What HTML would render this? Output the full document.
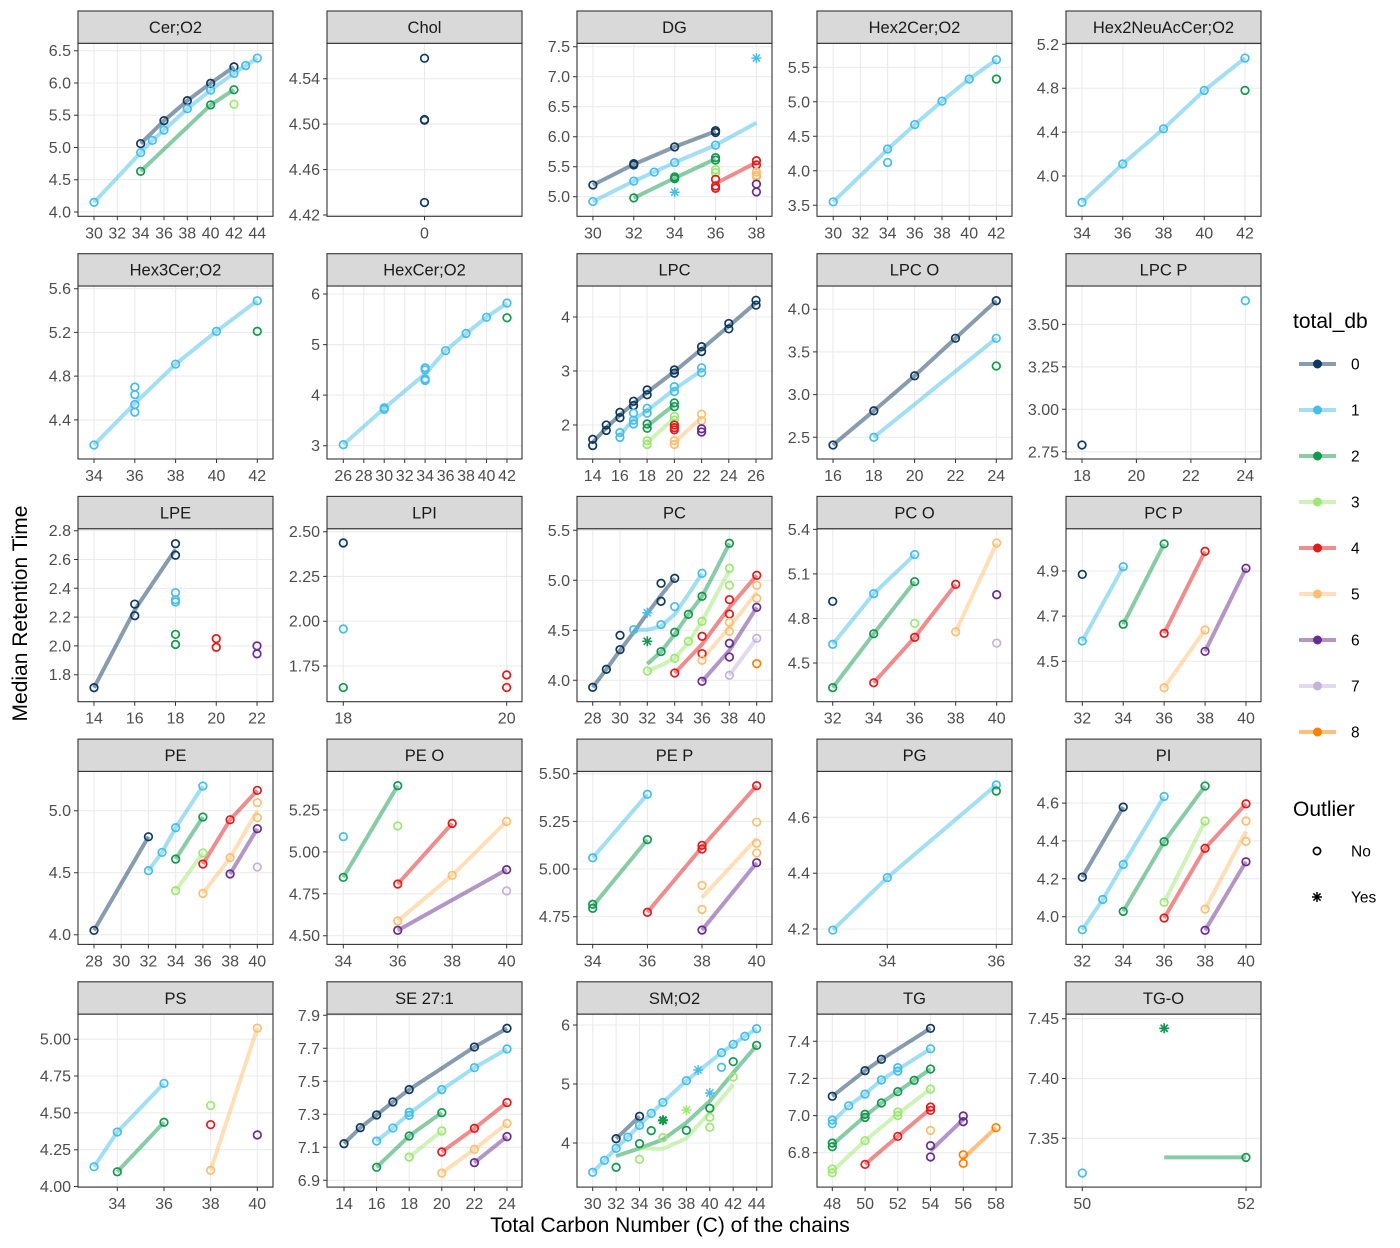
<!DOCTYPE html>
<html><head><meta charset="utf-8"><style>
html,body{margin:0;padding:0;background:#fff}
svg{display:block}
text{font-family:"Liberation Sans",Arial,Helvetica,sans-serif}
.tk{font-size:16px;fill:#4d4d4d}
.m{text-anchor:middle}
.e{text-anchor:end}
.st{font-size:16.5px;fill:#1a1a1a;text-anchor:middle}
.l{fill:none;stroke-width:4px;stroke-opacity:.5;stroke-linejoin:round;vector-effect:non-scaling-stroke}
.gr{fill:none;stroke:#ebebeb;stroke-width:1.1}
.tc{fill:none;stroke:#333;stroke-width:1}
.bd{fill:none;stroke:#333;stroke-width:1.1}
.sb{fill:#d9d9d9;stroke:#333;stroke-width:1.1}
.pt{fill:none;stroke-width:1.7}
.tt{font-size:21px;fill:#000}
.lg{font-size:15.5px;fill:#000}
</style></head><body>
<svg width="1400" height="1248" viewBox="0 0 1400 1248" xmlns="http://www.w3.org/2000/svg">
<defs>
<ellipse id="e1" rx=".2915" ry=".0527" transform="scale(1.12)" fill="none" vector-effect="non-scaling-stroke"/>
<ellipse id="e2" rx=".034" ry=".003" transform="scale(1.12)" fill="none" vector-effect="non-scaling-stroke"/>
<ellipse id="e3" rx=".1663" ry=".0567" transform="scale(1.12)" fill="none" vector-effect="non-scaling-stroke"/>
<ellipse id="e4" rx=".25" ry=".0493" transform="scale(1.12)" fill="none" vector-effect="non-scaling-stroke"/>
<ellipse id="e5" rx=".1669" ry=".031" transform="scale(1.12)" fill="none" vector-effect="non-scaling-stroke"/>
<ellipse id="e6" rx=".1666" ry=".0311" transform="scale(1.12)" fill="none" vector-effect="non-scaling-stroke"/>
<ellipse id="e7" rx=".3324" ry=".0672" transform="scale(1.12)" fill="none" vector-effect="non-scaling-stroke"/>
<ellipse id="e8" rx=".2498" ry=".063" transform="scale(1.12)" fill="none" vector-effect="non-scaling-stroke"/>
<ellipse id="e9" rx=".1666" ry=".0398" transform="scale(1.12)" fill="none" vector-effect="non-scaling-stroke"/>
<ellipse id="e10" rx=".1249" ry=".02" transform="scale(1.12)" fill="none" vector-effect="non-scaling-stroke"/>
<ellipse id="e11" rx=".1669" ry=".0236" transform="scale(1.12)" fill="none" vector-effect="non-scaling-stroke"/>
<ellipse id="e12" rx=".0416" ry=".019" transform="scale(1.12)" fill="none" vector-effect="non-scaling-stroke"/>
<ellipse id="e13" rx=".2487" ry=".034" transform="scale(1.12)" fill="none" vector-effect="non-scaling-stroke"/>
<ellipse id="e14" rx=".1659" ry=".0229" transform="scale(1.12)" fill="none" vector-effect="non-scaling-stroke"/>
<ellipse id="e15" rx=".1662" ry=".01506" transform="scale(1.12)" fill="none" vector-effect="non-scaling-stroke"/>
<ellipse id="e16" rx=".2498" ry=".0274" transform="scale(1.12)" fill="none" vector-effect="non-scaling-stroke"/>
<ellipse id="e17" rx=".1249" ry=".0203" transform="scale(1.12)" fill="none" vector-effect="non-scaling-stroke"/>
<ellipse id="e18" rx=".1244" ry=".0178" transform="scale(1.12)" fill="none" vector-effect="non-scaling-stroke"/>
<ellipse id="e19" rx=".0624" ry=".01218" transform="scale(1.12)" fill="none" vector-effect="non-scaling-stroke"/>
<ellipse id="e20" rx=".1662" ry=".01795" transform="scale(1.12)" fill="none" vector-effect="non-scaling-stroke"/>
<ellipse id="e21" rx=".1457" ry=".0231" transform="scale(1.12)" fill="none" vector-effect="non-scaling-stroke"/>
<ellipse id="e22" rx=".2086" ry=".0206" transform="scale(1.12)" fill="none" vector-effect="non-scaling-stroke"/>
<ellipse id="e23" rx=".2903" ry=".0576" transform="scale(1.12)" fill="none" vector-effect="non-scaling-stroke"/>
<ellipse id="e24" rx=".2077" ry=".01832" transform="scale(1.12)" fill="none" vector-effect="non-scaling-stroke"/>
<ellipse id="e25" rx=".04155" ry=".002843" transform="scale(1.12)" fill="none" vector-effect="non-scaling-stroke"/>
<path id="star" d="M-5 0h10M0-5v10M-3.6-3.6l7.2 7.2M-3.6 3.6l7.2-7.2" fill="none"/>
</defs>
<rect width="1400" height="1248" fill="#fff"/>

<!-- ============ ROW 0 ============ -->
<!-- P1 Cer;O2 -->
<rect x="78" y="43.3" width="195" height="173" fill="#fff"/>
<path class="gr" d="M94 43.3v173M117.3 43.3v173M140.7 43.3v173M164 43.3v173M187.3 43.3v173M210.6 43.3v173M234 43.3v173M257.3 43.3v173M78 212h195M78 179.7h195M78 147.5h195M78 115.2h195M78 83h195M78 50.7h195"/>
<g transform="matrix(11.664 0 0 -64.52 -255.92 470.08)">
<polyline class="l" stroke="#0f3a5f" points="34,5.06 36,5.415 38,5.725 40,5.995 42,6.25"/>
<polyline class="l" stroke="#45bfea" points="30,4.15 34,4.92 35,5.11 36,5.27 38,5.6 40,5.89 42,6.15 43,6.27 44,6.385"/>
<polyline class="l" stroke="#12994e" points="34,4.63 40,5.66 42,5.895"/>
<g class="pt" stroke="#0f3a5f"><use href="#e1" x="34" y="5.06"/><use href="#e1" x="36" y="5.415"/><use href="#e1" x="38" y="5.725"/><use href="#e1" x="40" y="5.995"/><use href="#e1" x="42" y="6.25"/></g>
<g class="pt" stroke="#45bfea"><use href="#e1" x="30" y="4.15"/><use href="#e1" x="34" y="4.92"/><use href="#e1" x="35" y="5.11"/><use href="#e1" x="36" y="5.27"/><use href="#e1" x="38" y="5.6"/><use href="#e1" x="40" y="5.89"/><use href="#e1" x="42" y="6.15"/><use href="#e1" x="43" y="6.27"/><use href="#e1" x="44" y="6.385"/></g>
<g class="pt" stroke="#12994e"><use href="#e1" x="34" y="4.63"/><use href="#e1" x="40" y="5.66"/><use href="#e1" x="42" y="5.895"/></g>
<g class="pt" stroke="#9de872"><use href="#e1" x="42" y="5.67"/></g>
</g>
<rect class="bd" x="78" y="43.3" width="195" height="173"/>
<rect class="sb" x="78" y="11" width="195" height="32.3"/>
<text class="st" x="175.5" y="33">Cer;O2</text>
<path class="tc" d="M94 216.3v4M117.3 216.3v4M140.7 216.3v4M164 216.3v4M187.3 216.3v4M210.6 216.3v4M234 216.3v4M257.3 216.3v4M78 212h-4M78 179.7h-4M78 147.5h-4M78 115.2h-4M78 83h-4M78 50.7h-4"/>
<g class="tk m"><text x="94" y="238.5">30</text><text x="117.3" y="238.5">32</text><text x="140.7" y="238.5">34</text><text x="164" y="238.5">36</text><text x="187.3" y="238.5">38</text><text x="210.6" y="238.5">40</text><text x="234" y="238.5">42</text><text x="257.3" y="238.5">44</text></g>
<g class="tk e"><text x="71" y="217.5">4.0</text><text x="71" y="185.2">4.5</text><text x="71" y="153">5.0</text><text x="71" y="120.7">5.5</text><text x="71" y="88.5">6.0</text><text x="71" y="56.2">6.5</text></g>

<!-- P2 Chol -->
<rect x="327" y="43.3" width="195" height="173" fill="#fff"/>
<path class="gr" d="M424.5 43.3v173M327 215h195M327 169.6h195M327 124.1h195M327 78.7h195"/>
<g transform="matrix(100 0 0 -1135.8 424.5 5235.24)">
<g class="pt" stroke="#0f3a5f"><use href="#e2" x="0" y="4.558"/><use href="#e2" x="0" y="4.504"/><use href="#e2" x="0" y="4.5035"/><use href="#e2" x="0" y="4.431"/></g>
</g>
<rect class="bd" x="327" y="43.3" width="195" height="173"/>
<rect class="sb" x="327" y="11" width="195" height="32.3"/>
<text class="st" x="424.5" y="33">Chol</text>
<path class="tc" d="M424.5 216.3v4M327 215h-4M327 169.6h-4M327 124.1h-4M327 78.7h-4"/>
<g class="tk m"><text x="424.5" y="238.5">0</text></g>
<g class="tk e"><text x="320" y="220.5">4.42</text><text x="320" y="175.1">4.46</text><text x="320" y="129.6">4.50</text><text x="320" y="84.2">4.54</text></g>

<!-- P3 DG -->
<rect x="577" y="43.3" width="195" height="173" fill="#fff"/>
<path class="gr" d="M592.9 43.3v173M633.8 43.3v173M674.7 43.3v173M715.6 43.3v173M756.4 43.3v173M577 196.7h195M577 166.7h195M577 136.7h195M577 106.7h195M577 76.7h195M577 46.7h195"/>
<g transform="matrix(20.44 0 0 -60 -20.3 496.7)">
<polyline class="l" stroke="#0f3a5f" points="30,5.195 32,5.54 34,5.83 36,6.09"/>
<polyline class="l" stroke="#45bfea" points="30,4.92 32,5.26 33,5.41 34,5.57 36,5.86 38,6.23"/>
<polyline class="l" stroke="#12994e" points="32,4.98 34,5.31 36,5.63"/>
<polyline class="l" stroke="#e31a1c" points="36,5.22 38,5.57"/>
<g class="pt" stroke="#0f3a5f"><use href="#e3" x="30" y="5.195"/><use href="#e3" x="32" y="5.53"/><use href="#e3" x="32" y="5.55"/><use href="#e3" x="34" y="5.83"/><use href="#e3" x="36" y="6.07"/><use href="#e3" x="36" y="6.1"/></g>
<g class="pt" stroke="#45bfea"><use href="#e3" x="30" y="4.92"/><use href="#e3" x="32" y="5.26"/><use href="#e3" x="33" y="5.41"/><use href="#e3" x="34" y="5.57"/><use href="#e3" x="36" y="5.86"/></g>
<g class="pt" stroke="#12994e"><use href="#e3" x="32" y="4.98"/><use href="#e3" x="34" y="5.3"/><use href="#e3" x="34" y="5.33"/><use href="#e3" x="36" y="5.61"/><use href="#e3" x="36" y="5.65"/></g>
<g class="pt" stroke="#9de872"><use href="#e3" x="36" y="5.45"/><use href="#e3" x="36" y="5.4"/></g>
<g class="pt" stroke="#e31a1c"><use href="#e3" x="36" y="5.29"/><use href="#e3" x="36" y="5.18"/><use href="#e3" x="36" y="5.14"/><use href="#e3" x="38" y="5.6"/><use href="#e3" x="38" y="5.53"/></g>
<g class="pt" stroke="#fdbf6f"><use href="#e3" x="38" y="5.41"/><use href="#e3" x="38" y="5.36"/><use href="#e3" x="38" y="5.33"/></g>
<g class="pt" stroke="#6a2c91"><use href="#e3" x="38" y="5.21"/><use href="#e3" x="38" y="5.08"/></g>
</g>
<g stroke="#45bfea" stroke-width="1.5"><use href="#star" x="756.4" y="58.1"/><use href="#star" x="674.7" y="192.2"/></g>
<rect class="bd" x="577" y="43.3" width="195" height="173"/>
<rect class="sb" x="577" y="11" width="195" height="32.3"/>
<text class="st" x="674.5" y="33">DG</text>
<path class="tc" d="M592.9 216.3v4M633.8 216.3v4M674.7 216.3v4M715.6 216.3v4M756.4 216.3v4M577 196.7h-4M577 166.7h-4M577 136.7h-4M577 106.7h-4M577 76.7h-4M577 46.7h-4"/>
<g class="tk m"><text x="592.9" y="238.5">30</text><text x="633.8" y="238.5">32</text><text x="674.7" y="238.5">34</text><text x="715.6" y="238.5">36</text><text x="756.4" y="238.5">38</text></g>
<g class="tk e"><text x="570" y="202.2">5.0</text><text x="570" y="172.2">5.5</text><text x="570" y="142.2">6.0</text><text x="570" y="112.2">6.5</text><text x="570" y="82.2">7.0</text><text x="570" y="52.2">7.5</text></g>

<!-- P4 Hex2Cer;O2 -->
<rect x="817" y="43.3" width="195" height="173" fill="#fff"/>
<path class="gr" d="M833.2 43.3v173M860.4 43.3v173M887.6 43.3v173M914.8 43.3v173M942 43.3v173M969.2 43.3v173M996.4 43.3v173M817 205.3h195M817 170.8h195M817 136.3h195M817 101.8h195M817 67.3h195"/>
<g transform="matrix(13.6 0 0 -69 425.2 446.8)">
<polyline class="l" stroke="#45bfea" points="30,3.55 34,4.31 36,4.67 38,5.01 40,5.33 42,5.61"/>
<g class="pt" stroke="#45bfea"><use href="#e4" x="30" y="3.55"/><use href="#e4" x="34" y="4.316"/><use href="#e4" x="34" y="4.12"/><use href="#e4" x="36" y="4.67"/><use href="#e4" x="38" y="5.01"/><use href="#e4" x="40" y="5.33"/><use href="#e4" x="42" y="5.61"/></g>
<g class="pt" stroke="#12994e"><use href="#e4" x="42" y="5.33"/></g>
</g>
<rect class="bd" x="817" y="43.3" width="195" height="173"/>
<rect class="sb" x="817" y="11" width="195" height="32.3"/>
<text class="st" x="914.5" y="33">Hex2Cer;O2</text>
<path class="tc" d="M833.2 216.3v4M860.4 216.3v4M887.6 216.3v4M914.8 216.3v4M942 216.3v4M969.2 216.3v4M996.4 216.3v4M817 205.3h-4M817 170.8h-4M817 136.3h-4M817 101.8h-4M817 67.3h-4"/>
<g class="tk m"><text x="833.2" y="238.5">30</text><text x="860.4" y="238.5">32</text><text x="887.6" y="238.5">34</text><text x="914.8" y="238.5">36</text><text x="942" y="238.5">38</text><text x="969.2" y="238.5">40</text><text x="996.4" y="238.5">42</text></g>
<g class="tk e"><text x="810" y="210.8">3.5</text><text x="810" y="176.3">4.0</text><text x="810" y="141.8">4.5</text><text x="810" y="107.3">5.0</text><text x="810" y="72.8">5.5</text></g>

<!-- P5 Hex2NeuAcCer;O2 -->
<rect x="1066" y="43.3" width="195" height="173" fill="#fff"/>
<path class="gr" d="M1082 43.3v173M1122.75 43.3v173M1163.5 43.3v173M1204.25 43.3v173M1245 43.3v173M1066 176h195M1066 132.1h195M1066 88.2h195M1066 44.3h195"/>
<g transform="matrix(20.375 0 0 -109.75 389.25 615)">
<polyline class="l" stroke="#45bfea" points="34,3.76 36,4.11 38,4.43 40,4.78 42,5.075"/>
<g class="pt" stroke="#45bfea"><use href="#e5" x="34" y="3.76"/><use href="#e5" x="36" y="4.11"/><use href="#e5" x="38" y="4.43"/><use href="#e5" x="40" y="4.78"/><use href="#e5" x="42" y="5.075"/></g>
<g class="pt" stroke="#12994e"><use href="#e5" x="42" y="4.78"/></g>
</g>
<rect class="bd" x="1066" y="43.3" width="195" height="173"/>
<rect class="sb" x="1066" y="11" width="195" height="32.3"/>
<text class="st" x="1163.5" y="33">Hex2NeuAcCer;O2</text>
<path class="tc" d="M1082 216.3v4M1122.75 216.3v4M1163.5 216.3v4M1204.25 216.3v4M1245 216.3v4M1066 176h-4M1066 132.1h-4M1066 88.2h-4M1066 44.3h-4"/>
<g class="tk m"><text x="1082" y="238.5">34</text><text x="1122.75" y="238.5">36</text><text x="1163.5" y="238.5">38</text><text x="1204.25" y="238.5">40</text><text x="1245" y="238.5">42</text></g>
<g class="tk e"><text x="1059" y="181.5">4.0</text><text x="1059" y="137.6">4.4</text><text x="1059" y="93.7">4.8</text><text x="1059" y="49.8">5.2</text></g>

<!-- ============ ROW 1 ============ -->
<!-- P6 Hex3Cer;O2 -->
<rect x="78" y="286" width="195" height="173" fill="#fff"/>
<path class="gr" d="M94 286v173M134.8 286v173M175.6 286v173M216.5 286v173M257.3 286v173M78 419.9h195M78 376.1h195M78 332.4h195M78 288.7h195"/>
<g transform="matrix(20.41 0 0 -109.3 -599.94 900.78)">
<polyline class="l" stroke="#45bfea" points="34,4.17 36,4.55 38,4.91 40,5.21 42,5.49"/>
<g class="pt" stroke="#45bfea"><use href="#e6" x="34" y="4.17"/><use href="#e6" x="36" y="4.7"/><use href="#e6" x="36" y="4.63"/><use href="#e6" x="36" y="4.54"/><use href="#e6" x="36" y="4.47"/><use href="#e6" x="38" y="4.91"/><use href="#e6" x="40" y="5.21"/><use href="#e6" x="42" y="5.49"/></g>
<g class="pt" stroke="#12994e"><use href="#e6" x="42" y="5.21"/></g>
</g>
<rect class="bd" x="78" y="286" width="195" height="173"/>
<rect class="sb" x="78" y="253.7" width="195" height="32.3"/>
<text class="st" x="175.5" y="275.7">Hex3Cer;O2</text>
<path class="tc" d="M94 459v4M134.8 459v4M175.6 459v4M216.5 459v4M257.3 459v4M78 419.9h-4M78 376.1h-4M78 332.4h-4M78 288.7h-4"/>
<g class="tk m"><text x="94" y="481">34</text><text x="134.8" y="481">36</text><text x="175.6" y="481">38</text><text x="216.5" y="481">40</text><text x="257.3" y="481">42</text></g>
<g class="tk e"><text x="71" y="425.4">4.4</text><text x="71" y="381.6">4.8</text><text x="71" y="337.9">5.2</text><text x="71" y="294.2">5.6</text></g>

<!-- P7 HexCer;O2 -->
<rect x="327" y="286" width="195" height="173" fill="#fff"/>
<path class="gr" d="M343.3 286v173M363.8 286v173M384.2 286v173M404.7 286v173M425.1 286v173M445.6 286v173M466 286v173M486.5 286v173M507 286v173M327 445.7h195M327 395.1h195M327 344.6h195M327 294h195"/>
<g transform="matrix(10.23 0 0 -50.57 77.32 597.41)">
<polyline class="l" stroke="#45bfea" points="26,3.02 30,3.74 34,4.42 36,4.88 38,5.22 40,5.54 42,5.82"/>
<g class="pt" stroke="#45bfea"><use href="#e7" x="26" y="3.02"/><use href="#e7" x="30" y="3.72"/><use href="#e7" x="30" y="3.75"/><use href="#e7" x="34" y="4.54"/><use href="#e7" x="34" y="4.5"/><use href="#e7" x="34" y="4.32"/><use href="#e7" x="34" y="4.29"/><use href="#e7" x="36" y="4.88"/><use href="#e7" x="38" y="5.22"/><use href="#e7" x="40" y="5.54"/><use href="#e7" x="42" y="5.82"/></g>
<g class="pt" stroke="#12994e"><use href="#e7" x="42" y="5.53"/></g>
</g>
<rect class="bd" x="327" y="286" width="195" height="173"/>
<rect class="sb" x="327" y="253.7" width="195" height="32.3"/>
<text class="st" x="424.5" y="275.7">HexCer;O2</text>
<path class="tc" d="M343.3 459v4M363.8 459v4M384.2 459v4M404.7 459v4M425.1 459v4M445.6 459v4M466 459v4M486.5 459v4M507 459v4M327 445.7h-4M327 395.1h-4M327 344.6h-4M327 294h-4"/>
<g class="tk m"><text x="343.3" y="481">26</text><text x="363.8" y="481">28</text><text x="384.2" y="481">30</text><text x="404.7" y="481">32</text><text x="425.1" y="481">34</text><text x="445.6" y="481">36</text><text x="466" y="481">38</text><text x="486.5" y="481">40</text><text x="507" y="481">42</text></g>
<g class="tk e"><text x="320" y="451.2">3</text><text x="320" y="400.6">4</text><text x="320" y="350.1">5</text><text x="320" y="299.5">6</text></g>

<!-- P8 LPC -->
<rect x="577" y="286" width="195" height="173" fill="#fff"/>
<path class="gr" d="M592.7 286v173M619.9 286v173M647.1 286v173M674.4 286v173M701.6 286v173M728.8 286v173M756 286v173M577 425h195M577 371h195M577 317h195"/>
<g transform="matrix(13.61 0 0 -54 402.16 533)">
<polyline class="l" stroke="#0f3a5f" points="14,1.675 15,1.95 16,2.185 17,2.4 18,2.605 20,2.99 22,3.405 24,3.83 26,4.265"/>
<polyline class="l" stroke="#45bfea" points="16,1.815 17,2.1 18,2.265 20,2.66 22,3.01"/>
<polyline class="l" stroke="#12994e" points="18,1.98 20,2.375"/>
<polyline class="l" stroke="#9de872" points="18,1.675 20,2.125"/>
<polyline class="l" stroke="#fdbf6f" points="20,1.675 22,2.14"/>
<g class="pt" stroke="#0f3a5f"><use href="#e8" x="14" y="1.735"/><use href="#e8" x="14" y="1.62"/><use href="#e8" x="15" y="2"/><use href="#e8" x="15" y="1.9"/><use href="#e8" x="16" y="2.235"/><use href="#e8" x="16" y="2.135"/><use href="#e8" x="17" y="2.44"/><use href="#e8" x="17" y="2.36"/><use href="#e8" x="18" y="2.65"/><use href="#e8" x="18" y="2.56"/><use href="#e8" x="20" y="3.02"/><use href="#e8" x="20" y="2.96"/><use href="#e8" x="22" y="3.45"/><use href="#e8" x="22" y="3.36"/><use href="#e8" x="24" y="3.88"/><use href="#e8" x="24" y="3.78"/><use href="#e8" x="26" y="4.31"/><use href="#e8" x="26" y="4.22"/></g>
<g class="pt" stroke="#45bfea"><use href="#e8" x="16" y="1.86"/><use href="#e8" x="16" y="1.77"/><use href="#e8" x="17" y="2.22"/><use href="#e8" x="17" y="2.09"/><use href="#e8" x="17" y="2.02"/><use href="#e8" x="18" y="2.31"/><use href="#e8" x="18" y="2.22"/><use href="#e8" x="20" y="2.71"/><use href="#e8" x="20" y="2.62"/><use href="#e8" x="22" y="3.06"/><use href="#e8" x="22" y="2.97"/></g>
<g class="pt" stroke="#12994e"><use href="#e8" x="18" y="2.02"/><use href="#e8" x="18" y="1.94"/><use href="#e8" x="20" y="2.41"/><use href="#e8" x="20" y="2.34"/></g>
<g class="pt" stroke="#9de872"><use href="#e8" x="18" y="1.71"/><use href="#e8" x="18" y="1.64"/><use href="#e8" x="20" y="2.16"/><use href="#e8" x="20" y="2.09"/></g>
<g class="pt" stroke="#e31a1c"><use href="#e8" x="20" y="2"/><use href="#e8" x="20" y="1.95"/><use href="#e8" x="20" y="1.91"/></g>
<g class="pt" stroke="#fdbf6f"><use href="#e8" x="20" y="1.71"/><use href="#e8" x="20" y="1.64"/><use href="#e8" x="22" y="2.2"/><use href="#e8" x="22" y="2.08"/></g>
<g class="pt" stroke="#6a2c91"><use href="#e8" x="22" y="1.93"/><use href="#e8" x="22" y="1.87"/></g>
</g>
<rect class="bd" x="577" y="286" width="195" height="173"/>
<rect class="sb" x="577" y="253.7" width="195" height="32.3"/>
<text class="st" x="674.5" y="275.7">LPC</text>
<path class="tc" d="M592.7 459v4M619.9 459v4M647.1 459v4M674.4 459v4M701.6 459v4M728.8 459v4M756 459v4M577 425h-4M577 371h-4M577 317h-4"/>
<g class="tk m"><text x="592.7" y="481">14</text><text x="619.9" y="481">16</text><text x="647.1" y="481">18</text><text x="674.4" y="481">20</text><text x="701.6" y="481">22</text><text x="728.8" y="481">24</text><text x="756" y="481">26</text></g>
<g class="tk e"><text x="570" y="430.5">2</text><text x="570" y="376.5">3</text><text x="570" y="322.5">4</text></g>

<!-- P9 LPC O -->
<rect x="817" y="286" width="195" height="173" fill="#fff"/>
<path class="gr" d="M833 286v173M873.8 286v173M914.6 286v173M955.5 286v173M996.3 286v173M817 437.3h195M817 394.6h195M817 351.9h195M817 309.2h195"/>
<g transform="matrix(20.41 0 0 -85.4 506.44 650.81)">
<polyline class="l" stroke="#0f3a5f" points="16,2.41 18,2.81 20,3.22 22,3.66 24,4.1"/>
<polyline class="l" stroke="#45bfea" points="18,2.5 24,3.66"/>
<g class="pt" stroke="#0f3a5f"><use href="#e9" x="16" y="2.41"/><use href="#e9" x="18" y="2.81"/><use href="#e9" x="20" y="3.22"/><use href="#e9" x="22" y="3.66"/><use href="#e9" x="24" y="4.1"/></g>
<g class="pt" stroke="#45bfea"><use href="#e9" x="18" y="2.5"/><use href="#e9" x="24" y="3.66"/></g>
<g class="pt" stroke="#12994e"><use href="#e9" x="24" y="3.335"/></g>
</g>
<rect class="bd" x="817" y="286" width="195" height="173"/>
<rect class="sb" x="817" y="253.7" width="195" height="32.3"/>
<text class="st" x="914.5" y="275.7">LPC O</text>
<path class="tc" d="M833 459v4M873.8 459v4M914.6 459v4M955.5 459v4M996.3 459v4M817 437.3h-4M817 394.6h-4M817 351.9h-4M817 309.2h-4"/>
<g class="tk m"><text x="833" y="481">16</text><text x="873.8" y="481">18</text><text x="914.6" y="481">20</text><text x="955.5" y="481">22</text><text x="996.3" y="481">24</text></g>
<g class="tk e"><text x="810" y="442.8">2.5</text><text x="810" y="400.1">3.0</text><text x="810" y="357.4">3.5</text><text x="810" y="314.7">4.0</text></g>

<!-- P10 LPC P -->
<rect x="1066" y="286" width="195" height="173" fill="#fff"/>
<path class="gr" d="M1082 286v173M1136.4 286v173M1190.9 286v173M1245.3 286v173M1066 451.8h195M1066 409.3h195M1066 366.9h195M1066 324.4h195"/>
<g transform="matrix(27.22 0 0 -169.8 592.04 918.74)">
<g class="pt" stroke="#0f3a5f"><use href="#e10" x="18" y="2.79"/></g>
<g class="pt" stroke="#45bfea"><use href="#e10" x="24" y="3.64"/></g>
</g>
<rect class="bd" x="1066" y="286" width="195" height="173"/>
<rect class="sb" x="1066" y="253.7" width="195" height="32.3"/>
<text class="st" x="1163.5" y="275.7">LPC P</text>
<path class="tc" d="M1082 459v4M1136.4 459v4M1190.9 459v4M1245.3 459v4M1066 451.8h-4M1066 409.3h-4M1066 366.9h-4M1066 324.4h-4"/>
<g class="tk m"><text x="1082" y="481">18</text><text x="1136.4" y="481">20</text><text x="1190.9" y="481">22</text><text x="1245.3" y="481">24</text></g>
<g class="tk e"><text x="1059" y="457.3">2.75</text><text x="1059" y="414.8">3.00</text><text x="1059" y="372.4">3.25</text><text x="1059" y="329.9">3.50</text></g>

<!-- ============ ROW 2 ============ -->
<!-- P11 LPE -->
<rect x="78" y="528.7" width="195" height="173" fill="#fff"/>
<path class="gr" d="M94 528.7v173M134.75 528.7v173M175.5 528.7v173M216.25 528.7v173M257 528.7v173M78 674.7h195M78 645.9h195M78 617.1h195M78 588.3h195M78 559.5h195M78 530.7h195"/>
<g transform="matrix(20.375 0 0 -144 -191.25 933.9)">
<polyline class="l" stroke="#0f3a5f" points="14,1.71 16,2.25 18,2.67"/>
<g class="pt" stroke="#0f3a5f"><use href="#e11" x="14" y="1.71"/><use href="#e11" x="16" y="2.29"/><use href="#e11" x="16" y="2.21"/><use href="#e11" x="18" y="2.71"/><use href="#e11" x="18" y="2.63"/></g>
<g class="pt" stroke="#45bfea"><use href="#e11" x="18" y="2.37"/><use href="#e11" x="18" y="2.32"/><use href="#e11" x="18" y="2.305"/></g>
<g class="pt" stroke="#12994e"><use href="#e11" x="18" y="2.08"/><use href="#e11" x="18" y="2.01"/></g>
<g class="pt" stroke="#e31a1c"><use href="#e11" x="20" y="2.05"/><use href="#e11" x="20" y="1.99"/></g>
<g class="pt" stroke="#6a2c91"><use href="#e11" x="22" y="2"/><use href="#e11" x="22" y="1.945"/></g>
</g>
<rect class="bd" x="78" y="528.7" width="195" height="173"/>
<rect class="sb" x="78" y="496.4" width="195" height="32.3"/>
<text class="st" x="175.5" y="518.4">LPE</text>
<path class="tc" d="M94 701.7v4M134.75 701.7v4M175.5 701.7v4M216.25 701.7v4M257 701.7v4M78 674.7h-4M78 645.9h-4M78 617.1h-4M78 588.3h-4M78 559.5h-4M78 530.7h-4"/>
<g class="tk m"><text x="94" y="723.7">14</text><text x="134.75" y="723.7">16</text><text x="175.5" y="723.7">18</text><text x="216.25" y="723.7">20</text><text x="257" y="723.7">22</text></g>
<g class="tk e"><text x="71" y="680.2">1.8</text><text x="71" y="651.4">2.0</text><text x="71" y="622.6">2.2</text><text x="71" y="593.8">2.4</text><text x="71" y="565">2.6</text><text x="71" y="536.2">2.8</text></g>

<!-- P12 LPI -->
<rect x="327" y="528.7" width="195" height="173" fill="#fff"/>
<path class="gr" d="M343.3 528.7v173M506.7 528.7v173M327 666h195M327 621.2h195M327 576.4h195M327 531.7h195"/>
<g transform="matrix(81.67 0 0 -179.1 -1126.76 979.43)">
<g class="pt" stroke="#0f3a5f"><use href="#e12" x="18" y="2.437"/></g>
<g class="pt" stroke="#45bfea"><use href="#e12" x="18" y="1.957"/></g>
<g class="pt" stroke="#12994e"><use href="#e12" x="18" y="1.63"/></g>
<g class="pt" stroke="#e31a1c"><use href="#e12" x="20" y="1.7"/><use href="#e12" x="20" y="1.63"/></g>
</g>
<rect class="bd" x="327" y="528.7" width="195" height="173"/>
<rect class="sb" x="327" y="496.4" width="195" height="32.3"/>
<text class="st" x="424.5" y="518.4">LPI</text>
<path class="tc" d="M343.3 701.7v4M506.7 701.7v4M327 666h-4M327 621.2h-4M327 576.4h-4M327 531.7h-4"/>
<g class="tk m"><text x="343.3" y="723.7">18</text><text x="506.7" y="723.7">20</text></g>
<g class="tk e"><text x="320" y="671.5">1.75</text><text x="320" y="626.7">2.00</text><text x="320" y="581.9">2.25</text><text x="320" y="537.2">2.50</text></g>

<!-- P13 PC -->
<rect x="577" y="528.7" width="195" height="173" fill="#fff"/>
<path class="gr" d="M592.7 528.7v173M620 528.7v173M647.3 528.7v173M674.7 528.7v173M702 528.7v173M729.3 528.7v173M756.7 528.7v173M577 680.3h195M577 630.3h195M577 580.3h195M577 530.3h195"/>
<g transform="matrix(13.67 0 0 -100 209.94 1080.3)">
<polyline class="l" stroke="#0f3a5f" points="28,3.93 29,4.11 30,4.3 31,4.48 32,4.67 33,4.85 34,5.02"/>
<polyline class="l" stroke="#45bfea" points="31,4.505 32,4.505 33,4.54 34,4.66 35,4.86 36,5.07"/>
<polyline class="l" stroke="#12994e" points="32,4.163 33,4.287 34,4.46 35,4.66 36,4.84 37,5.1 38,5.37"/>
<polyline class="l" stroke="#9de872" points="32,4.093 33,4.15 34,4.22 35,4.38 36,4.59 38,5.1"/>
<polyline class="l" stroke="#e31a1c" points="34,4.073 36,4.36 38,4.73 40,5.05"/>
<polyline class="l" stroke="#fdbf6f" points="36,4.21 38,4.53 40,4.88"/>
<polyline class="l" stroke="#6a2c91" points="36,3.99 38,4.3 40,4.73"/>
<polyline class="l" stroke="#c5b3dc" points="38,4.05 40,4.42"/>
<g class="pt" stroke="#0f3a5f"><use href="#e13" x="28" y="3.93"/><use href="#e13" x="29" y="4.11"/><use href="#e13" x="30" y="4.307"/><use href="#e13" x="30" y="4.45"/><use href="#e13" x="33" y="4.79"/><use href="#e13" x="33" y="4.97"/><use href="#e13" x="34" y="5.02"/></g>
<g class="pt" stroke="#45bfea"><use href="#e13" x="31" y="4.507"/><use href="#e13" x="33" y="4.557"/><use href="#e13" x="34" y="4.737"/><use href="#e13" x="36" y="5.07"/></g>
<g class="pt" stroke="#12994e"><use href="#e13" x="33" y="4.287"/><use href="#e13" x="34" y="4.48"/><use href="#e13" x="35" y="4.66"/><use href="#e13" x="36" y="4.84"/><use href="#e13" x="38" y="5.37"/></g>
<g class="pt" stroke="#9de872"><use href="#e13" x="32" y="4.093"/><use href="#e13" x="34" y="4.22"/><use href="#e13" x="35" y="4.39"/><use href="#e13" x="36" y="4.59"/><use href="#e13" x="38" y="4.95"/><use href="#e13" x="38" y="5.12"/></g>
<g class="pt" stroke="#e31a1c"><use href="#e13" x="34" y="4.073"/><use href="#e13" x="36" y="4.44"/><use href="#e13" x="36" y="4.267"/><use href="#e13" x="38" y="4.663"/><use href="#e13" x="38" y="4.807"/><use href="#e13" x="40" y="5.05"/></g>
<g class="pt" stroke="#fdbf6f"><use href="#e13" x="36" y="4.2"/><use href="#e13" x="38" y="4.49"/><use href="#e13" x="38" y="4.58"/><use href="#e13" x="40" y="4.82"/><use href="#e13" x="40" y="4.95"/></g>
<g class="pt" stroke="#6a2c91"><use href="#e13" x="36" y="3.99"/><use href="#e13" x="38" y="4.233"/><use href="#e13" x="38" y="4.37"/><use href="#e13" x="40" y="4.73"/></g>
<g class="pt" stroke="#c5b3dc"><use href="#e13" x="38" y="4.05"/><use href="#e13" x="40" y="4.42"/></g>
<g class="pt" stroke="#ff7f00"><use href="#e13" x="40" y="4.167"/></g>
</g>
<use href="#star" x="647.3" y="612.8" stroke="#45bfea" stroke-width="1.5"/>
<use href="#star" x="647.3" y="641.3" stroke="#12994e" stroke-width="1.5"/>
<rect class="bd" x="577" y="528.7" width="195" height="173"/>
<rect class="sb" x="577" y="496.4" width="195" height="32.3"/>
<text class="st" x="674.5" y="518.4">PC</text>
<path class="tc" d="M592.7 701.7v4M620 701.7v4M647.3 701.7v4M674.7 701.7v4M702 701.7v4M729.3 701.7v4M756.7 701.7v4M577 680.3h-4M577 630.3h-4M577 580.3h-4M577 530.3h-4"/>
<g class="tk m"><text x="592.7" y="723.7">28</text><text x="620" y="723.7">30</text><text x="647.3" y="723.7">32</text><text x="674.7" y="723.7">34</text><text x="702" y="723.7">36</text><text x="729.3" y="723.7">38</text><text x="756.7" y="723.7">40</text></g>
<g class="tk e"><text x="570" y="685.8">4.0</text><text x="570" y="635.8">4.5</text><text x="570" y="585.8">5.0</text><text x="570" y="535.8">5.5</text></g>

<!-- P14 PC O -->
<rect x="817" y="528.7" width="195" height="173" fill="#fff"/>
<path class="gr" d="M832.7 528.7v173M873.7 528.7v173M914.7 528.7v173M955.7 528.7v173M996.7 528.7v173M817 663h195M817 618.5h195M817 573.9h195M817 529.4h195"/>
<g transform="matrix(20.5 0 0 -148.5 176.7 1331.25)">
<polyline class="l" stroke="#45bfea" points="32,4.626 34,4.967 36,5.23"/>
<polyline class="l" stroke="#12994e" points="32,4.334 34,4.697 36,5.048"/>
<polyline class="l" stroke="#e31a1c" points="34,4.367 36,4.673 38,5.03"/>
<polyline class="l" stroke="#fdbf6f" points="38,4.71 40,5.308"/>
<g class="pt" stroke="#0f3a5f"><use href="#e14" x="32" y="4.915"/></g>
<g class="pt" stroke="#45bfea"><use href="#e14" x="32" y="4.626"/><use href="#e14" x="34" y="4.967"/><use href="#e14" x="36" y="5.23"/></g>
<g class="pt" stroke="#12994e"><use href="#e14" x="32" y="4.334"/><use href="#e14" x="34" y="4.697"/><use href="#e14" x="36" y="5.048"/></g>
<g class="pt" stroke="#9de872"><use href="#e14" x="36" y="4.767"/></g>
<g class="pt" stroke="#e31a1c"><use href="#e14" x="34" y="4.367"/><use href="#e14" x="36" y="4.673"/><use href="#e14" x="38" y="5.03"/></g>
<g class="pt" stroke="#fdbf6f"><use href="#e14" x="38" y="4.71"/><use href="#e14" x="40" y="5.308"/></g>
<g class="pt" stroke="#6a2c91"><use href="#e14" x="40" y="4.96"/></g>
<g class="pt" stroke="#c5b3dc"><use href="#e14" x="40" y="4.634"/></g>
</g>
<rect class="bd" x="817" y="528.7" width="195" height="173"/>
<rect class="sb" x="817" y="496.4" width="195" height="32.3"/>
<text class="st" x="914.5" y="518.4">PC O</text>
<path class="tc" d="M832.7 701.7v4M873.7 701.7v4M914.7 701.7v4M955.7 701.7v4M996.7 701.7v4M817 663h-4M817 618.5h-4M817 573.9h-4M817 529.4h-4"/>
<g class="tk m"><text x="832.7" y="723.7">32</text><text x="873.7" y="723.7">34</text><text x="914.7" y="723.7">36</text><text x="955.7" y="723.7">38</text><text x="996.7" y="723.7">40</text></g>
<g class="tk e"><text x="810" y="668.5">4.5</text><text x="810" y="624">4.8</text><text x="810" y="579.4">5.1</text><text x="810" y="534.9">5.4</text></g>

<!-- P15 PC P -->
<rect x="1066" y="528.7" width="195" height="173" fill="#fff"/>
<path class="gr" d="M1082.3 528.7v173M1123.2 528.7v173M1164.1 528.7v173M1205.1 528.7v173M1246 528.7v173M1066 661.3h195M1066 616.1h195M1066 571h195"/>
<g transform="matrix(20.46 0 0 -225.8 427.58 1677.4)">
<polyline class="l" stroke="#45bfea" points="32,4.59 34,4.919"/>
<polyline class="l" stroke="#12994e" points="34,4.664 36,5.02"/>
<polyline class="l" stroke="#e31a1c" points="36,4.624 38,4.987"/>
<polyline class="l" stroke="#fdbf6f" points="36,4.383 38,4.639"/>
<polyline class="l" stroke="#6a2c91" points="38,4.544 40,4.912"/>
<g class="pt" stroke="#0f3a5f"><use href="#e15" x="32" y="4.885"/></g>
<g class="pt" stroke="#45bfea"><use href="#e15" x="32" y="4.59"/><use href="#e15" x="34" y="4.919"/></g>
<g class="pt" stroke="#12994e"><use href="#e15" x="34" y="4.664"/><use href="#e15" x="36" y="5.02"/></g>
<g class="pt" stroke="#e31a1c"><use href="#e15" x="36" y="4.624"/><use href="#e15" x="38" y="4.987"/></g>
<g class="pt" stroke="#fdbf6f"><use href="#e15" x="36" y="4.383"/><use href="#e15" x="38" y="4.639"/></g>
<g class="pt" stroke="#6a2c91"><use href="#e15" x="38" y="4.544"/><use href="#e15" x="40" y="4.912"/></g>
</g>
<rect class="bd" x="1066" y="528.7" width="195" height="173"/>
<rect class="sb" x="1066" y="496.4" width="195" height="32.3"/>
<text class="st" x="1163.5" y="518.4">PC P</text>
<path class="tc" d="M1082.3 701.7v4M1123.2 701.7v4M1164.1 701.7v4M1205.1 701.7v4M1246 701.7v4M1066 661.3h-4M1066 616.1h-4M1066 571h-4"/>
<g class="tk m"><text x="1082.3" y="723.7">32</text><text x="1123.2" y="723.7">34</text><text x="1164.1" y="723.7">36</text><text x="1205.1" y="723.7">38</text><text x="1246" y="723.7">40</text></g>
<g class="tk e"><text x="1059" y="666.8">4.5</text><text x="1059" y="621.6">4.7</text><text x="1059" y="576.5">4.9</text></g>

<!-- ============ ROW 3 ============ -->
<!-- P16 PE -->
<rect x="78" y="771.4" width="195" height="173" fill="#fff"/>
<path class="gr" d="M94 771.4v173M121.2 771.4v173M148.4 771.4v173M175.7 771.4v173M202.9 771.4v173M230.1 771.4v173M257.3 771.4v173M78 934.7h195M78 872.7h195M78 810.7h195"/>
<g transform="matrix(13.61 0 0 -124 -287.08 1430.7)">
<polyline class="l" stroke="#0f3a5f" points="28,4.035 32,4.79"/>
<polyline class="l" stroke="#45bfea" points="32,4.516 33,4.664 34,4.863 36,5.199"/>
<polyline class="l" stroke="#12994e" points="34,4.61 36,4.949"/>
<polyline class="l" stroke="#9de872" points="34,4.355 36,4.659"/>
<polyline class="l" stroke="#e31a1c" points="36,4.57 38,4.927 40,5.164"/>
<polyline class="l" stroke="#fdbf6f" points="36,4.333 38,4.621 40,5.0"/>
<polyline class="l" stroke="#6a2c91" points="38,4.49 40,4.855"/>
<g class="pt" stroke="#0f3a5f"><use href="#e16" x="28" y="4.035"/><use href="#e16" x="32" y="4.79"/></g>
<g class="pt" stroke="#45bfea"><use href="#e16" x="32" y="4.516"/><use href="#e16" x="33" y="4.664"/><use href="#e16" x="34" y="4.863"/><use href="#e16" x="36" y="5.199"/></g>
<g class="pt" stroke="#12994e"><use href="#e16" x="34" y="4.61"/><use href="#e16" x="36" y="4.949"/></g>
<g class="pt" stroke="#9de872"><use href="#e16" x="34" y="4.355"/><use href="#e16" x="36" y="4.659"/></g>
<g class="pt" stroke="#e31a1c"><use href="#e16" x="36" y="4.57"/><use href="#e16" x="38" y="4.927"/><use href="#e16" x="40" y="5.164"/></g>
<g class="pt" stroke="#fdbf6f"><use href="#e16" x="36" y="4.333"/><use href="#e16" x="38" y="4.621"/><use href="#e16" x="40" y="5.065"/><use href="#e16" x="40" y="4.944"/></g>
<g class="pt" stroke="#6a2c91"><use href="#e16" x="38" y="4.49"/><use href="#e16" x="40" y="4.855"/></g>
<g class="pt" stroke="#c5b3dc"><use href="#e16" x="40" y="4.546"/></g>
</g>
<rect class="bd" x="78" y="771.4" width="195" height="173"/>
<rect class="sb" x="78" y="739.1" width="195" height="32.3"/>
<text class="st" x="175.5" y="761.1">PE</text>
<path class="tc" d="M94 944.4v4M121.2 944.4v4M148.4 944.4v4M175.7 944.4v4M202.9 944.4v4M230.1 944.4v4M257.3 944.4v4M78 934.7h-4M78 872.7h-4M78 810.7h-4"/>
<g class="tk m"><text x="94" y="966.4">28</text><text x="121.2" y="966.4">30</text><text x="148.4" y="966.4">32</text><text x="175.7" y="966.4">34</text><text x="202.9" y="966.4">36</text><text x="230.1" y="966.4">38</text><text x="257.3" y="966.4">40</text></g>
<g class="tk e"><text x="71" y="940.2">4.0</text><text x="71" y="878.2">4.5</text><text x="71" y="816.2">5.0</text></g>

<!-- P17 PE O -->
<rect x="327" y="771.4" width="195" height="173" fill="#fff"/>
<path class="gr" d="M343.3 771.4v173M397.8 771.4v173M452.2 771.4v173M506.7 771.4v173M327 935.7h195M327 893.8h195M327 851.9h195M327 810h195"/>
<g transform="matrix(27.22 0 0 -167.6 -582.18 1689.9)">
<polyline class="l" stroke="#12994e" points="34,4.848 36,5.395"/>
<polyline class="l" stroke="#e31a1c" points="36,4.808 38,5.17"/>
<polyline class="l" stroke="#fdbf6f" points="36,4.588 38,4.86 40,5.182"/>
<polyline class="l" stroke="#6a2c91" points="36,4.532 40,4.894"/>
<g class="pt" stroke="#45bfea"><use href="#e17" x="34" y="5.091"/></g>
<g class="pt" stroke="#12994e"><use href="#e17" x="34" y="4.848"/><use href="#e17" x="36" y="5.395"/></g>
<g class="pt" stroke="#9de872"><use href="#e17" x="36" y="5.155"/></g>
<g class="pt" stroke="#e31a1c"><use href="#e17" x="36" y="4.808"/><use href="#e17" x="38" y="5.17"/></g>
<g class="pt" stroke="#fdbf6f"><use href="#e17" x="36" y="4.588"/><use href="#e17" x="38" y="4.86"/><use href="#e17" x="40" y="5.182"/></g>
<g class="pt" stroke="#6a2c91"><use href="#e17" x="36" y="4.532"/><use href="#e17" x="40" y="4.894"/></g>
<g class="pt" stroke="#c5b3dc"><use href="#e17" x="40" y="4.767"/></g>
</g>
<rect class="bd" x="327" y="771.4" width="195" height="173"/>
<rect class="sb" x="327" y="739.1" width="195" height="32.3"/>
<text class="st" x="424.5" y="761.1">PE O</text>
<path class="tc" d="M343.3 944.4v4M397.8 944.4v4M452.2 944.4v4M506.7 944.4v4M327 935.7h-4M327 893.8h-4M327 851.9h-4M327 810h-4"/>
<g class="tk m"><text x="343.3" y="966.4">34</text><text x="397.8" y="966.4">36</text><text x="452.2" y="966.4">38</text><text x="506.7" y="966.4">40</text></g>
<g class="tk e"><text x="320" y="941.2">4.50</text><text x="320" y="899.3">4.75</text><text x="320" y="857.4">5.00</text><text x="320" y="815.5">5.25</text></g>

<!-- P18 PE P -->
<rect x="577" y="771.4" width="195" height="173" fill="#fff"/>
<path class="gr" d="M592.7 771.4v173M647.4 771.4v173M702 771.4v173M756.7 771.4v173M577 916.7h195M577 869h195M577 821.4h195M577 773.7h195"/>
<g transform="matrix(27.33 0 0 -190.7 -336.52 1822.53)">
<polyline class="l" stroke="#45bfea" points="34,5.059 36,5.392"/>
<polyline class="l" stroke="#12994e" points="34,4.805 36,5.154"/>
<polyline class="l" stroke="#e31a1c" points="36,4.773 38,5.115 40,5.437"/>
<polyline class="l" stroke="#fdbf6f" points="38,4.85 40,5.16"/>
<polyline class="l" stroke="#6a2c91" points="38,4.68 40,5.033"/>
<g class="pt" stroke="#45bfea"><use href="#e18" x="34" y="5.059"/><use href="#e18" x="36" y="5.392"/></g>
<g class="pt" stroke="#12994e"><use href="#e18" x="34" y="4.815"/><use href="#e18" x="34" y="4.794"/><use href="#e18" x="36" y="5.154"/></g>
<g class="pt" stroke="#e31a1c"><use href="#e18" x="36" y="4.773"/><use href="#e18" x="38" y="5.124"/><use href="#e18" x="38" y="5.105"/><use href="#e18" x="40" y="5.437"/></g>
<g class="pt" stroke="#fdbf6f"><use href="#e18" x="38" y="4.914"/><use href="#e18" x="38" y="4.788"/><use href="#e18" x="40" y="5.246"/><use href="#e18" x="40" y="5.135"/><use href="#e18" x="40" y="5.084"/></g>
<g class="pt" stroke="#6a2c91"><use href="#e18" x="38" y="4.68"/><use href="#e18" x="40" y="5.033"/></g>
</g>
<rect class="bd" x="577" y="771.4" width="195" height="173"/>
<rect class="sb" x="577" y="739.1" width="195" height="32.3"/>
<text class="st" x="674.5" y="761.1">PE P</text>
<path class="tc" d="M592.7 944.4v4M647.4 944.4v4M702 944.4v4M756.7 944.4v4M577 916.7h-4M577 869h-4M577 821.4h-4M577 773.7h-4"/>
<g class="tk m"><text x="592.7" y="966.4">34</text><text x="647.4" y="966.4">36</text><text x="702" y="966.4">38</text><text x="756.7" y="966.4">40</text></g>
<g class="tk e"><text x="570" y="922.2">4.75</text><text x="570" y="874.5">5.00</text><text x="570" y="826.9">5.25</text><text x="570" y="779.2">5.50</text></g>

<!-- P19 PG -->
<rect x="817" y="771.4" width="195" height="173" fill="#fff"/>
<path class="gr" d="M887.3 771.4v173M996.3 771.4v173M817 929h195M817 873.2h195M817 817.3h195"/>
<g transform="matrix(54.5 0 0 -279.2 -965.7 2101.64)">
<polyline class="l" stroke="#45bfea" points="33,4.196 34,4.384 36,4.716"/>
<g class="pt" stroke="#45bfea"><use href="#e19" x="33" y="4.196"/><use href="#e19" x="34" y="4.384"/><use href="#e19" x="36" y="4.716"/></g>
<g class="pt" stroke="#12994e"><use href="#e19" x="36" y="4.694"/></g>
</g>
<rect class="bd" x="817" y="771.4" width="195" height="173"/>
<rect class="sb" x="817" y="739.1" width="195" height="32.3"/>
<text class="st" x="914.5" y="761.1">PG</text>
<path class="tc" d="M887.3 944.4v4M996.3 944.4v4M817 929h-4M817 873.2h-4M817 817.3h-4"/>
<g class="tk m"><text x="887.3" y="966.4">34</text><text x="996.3" y="966.4">36</text></g>
<g class="tk e"><text x="810" y="934.5">4.2</text><text x="810" y="878.7">4.4</text><text x="810" y="822.8">4.6</text></g>

<!-- P20 PI -->
<rect x="1066" y="771.4" width="195" height="173" fill="#fff"/>
<path class="gr" d="M1082.3 771.4v173M1123.2 771.4v173M1164.1 771.4v173M1205.1 771.4v173M1246 771.4v173M1066 916.7h195M1066 878.8h195M1066 840.9h195M1066 803.1h195"/>
<g transform="matrix(20.46 0 0 -189.4 427.58 1674.3)">
<polyline class="l" stroke="#0f3a5f" points="32,4.209 34,4.579"/>
<polyline class="l" stroke="#45bfea" points="32,3.931 33,4.091 34,4.276 36,4.635"/>
<polyline class="l" stroke="#12994e" points="34,4.028 36,4.396 38,4.69"/>
<polyline class="l" stroke="#9de872" points="36,4.076 38,4.505"/>
<polyline class="l" stroke="#e31a1c" points="36,3.993 38,4.361 40,4.596"/>
<polyline class="l" stroke="#fdbf6f" points="38,4.04 40,4.45"/>
<polyline class="l" stroke="#6a2c91" points="38,3.928 40,4.29"/>
<g class="pt" stroke="#0f3a5f"><use href="#e20" x="32" y="4.209"/><use href="#e20" x="34" y="4.579"/></g>
<g class="pt" stroke="#45bfea"><use href="#e20" x="32" y="3.931"/><use href="#e20" x="33" y="4.091"/><use href="#e20" x="34" y="4.276"/><use href="#e20" x="36" y="4.635"/></g>
<g class="pt" stroke="#12994e"><use href="#e20" x="34" y="4.028"/><use href="#e20" x="36" y="4.396"/><use href="#e20" x="38" y="4.69"/></g>
<g class="pt" stroke="#9de872"><use href="#e20" x="36" y="4.076"/><use href="#e20" x="38" y="4.505"/></g>
<g class="pt" stroke="#e31a1c"><use href="#e20" x="36" y="3.993"/><use href="#e20" x="38" y="4.361"/><use href="#e20" x="40" y="4.596"/></g>
<g class="pt" stroke="#fdbf6f"><use href="#e20" x="38" y="4.04"/><use href="#e20" x="40" y="4.505"/><use href="#e20" x="40" y="4.398"/></g>
<g class="pt" stroke="#6a2c91"><use href="#e20" x="38" y="3.928"/><use href="#e20" x="40" y="4.29"/></g>
</g>
<rect class="bd" x="1066" y="771.4" width="195" height="173"/>
<rect class="sb" x="1066" y="739.1" width="195" height="32.3"/>
<text class="st" x="1163.5" y="761.1">PI</text>
<path class="tc" d="M1082.3 944.4v4M1123.2 944.4v4M1164.1 944.4v4M1205.1 944.4v4M1246 944.4v4M1066 916.7h-4M1066 878.8h-4M1066 840.9h-4M1066 803.1h-4"/>
<g class="tk m"><text x="1082.3" y="966.4">32</text><text x="1123.2" y="966.4">34</text><text x="1164.1" y="966.4">36</text><text x="1205.1" y="966.4">38</text><text x="1246" y="966.4">40</text></g>
<g class="tk e"><text x="1059" y="922.2">4.0</text><text x="1059" y="884.3">4.2</text><text x="1059" y="846.4">4.4</text><text x="1059" y="808.6">4.6</text></g>

<!-- ============ ROW 4 ============ -->
<!-- P21 PS -->
<rect x="78" y="1014.1" width="195" height="173" fill="#fff"/>
<path class="gr" d="M117.3 1014.1v173M164 1014.1v173M210.7 1014.1v173M257.3 1014.1v173M78 1186.5h195M78 1149.7h195M78 1112.9h195M78 1076h195M78 1039.2h195"/>
<g transform="matrix(23.33 0 0 -147.3 -675.89 1775.7)">
<polyline class="l" stroke="#45bfea" points="33,4.134 34,4.37 36,4.7"/>
<polyline class="l" stroke="#12994e" points="34,4.1 36,4.436"/>
<polyline class="l" stroke="#fdbf6f" points="38,4.11 40,5.075"/>
<g class="pt" stroke="#45bfea"><use href="#e21" x="33" y="4.134"/><use href="#e21" x="34" y="4.37"/><use href="#e21" x="36" y="4.7"/></g>
<g class="pt" stroke="#12994e"><use href="#e21" x="34" y="4.1"/><use href="#e21" x="36" y="4.436"/></g>
<g class="pt" stroke="#9de872"><use href="#e21" x="38" y="4.55"/></g>
<g class="pt" stroke="#e31a1c"><use href="#e21" x="38" y="4.42"/></g>
<g class="pt" stroke="#fdbf6f"><use href="#e21" x="38" y="4.11"/><use href="#e21" x="40" y="5.075"/></g>
<g class="pt" stroke="#6a2c91"><use href="#e21" x="40" y="4.35"/></g>
</g>
<rect class="bd" x="78" y="1014.1" width="195" height="173"/>
<rect class="sb" x="78" y="981.8" width="195" height="32.3"/>
<text class="st" x="175.5" y="1003.8">PS</text>
<path class="tc" d="M117.3 1187.1v4M164 1187.1v4M210.7 1187.1v4M257.3 1187.1v4M78 1186.5h-4M78 1149.7h-4M78 1112.9h-4M78 1076h-4M78 1039.2h-4"/>
<g class="tk m"><text x="117.3" y="1209.1">34</text><text x="164" y="1209.1">36</text><text x="210.7" y="1209.1">38</text><text x="257.3" y="1209.1">40</text></g>
<g class="tk e"><text x="71" y="1192">4.00</text><text x="71" y="1155.2">4.25</text><text x="71" y="1118.4">4.50</text><text x="71" y="1081.5">4.75</text><text x="71" y="1044.7">5.00</text></g>

<!-- P22 SE 27:1 -->
<rect x="327" y="1014.1" width="195" height="173" fill="#fff"/>
<path class="gr" d="M344 1014.1v173M376.6 1014.1v173M409.2 1014.1v173M441.8 1014.1v173M474.4 1014.1v173M507 1014.1v173M327 1180.3h195M327 1147.3h195M327 1114.3h195M327 1081.3h195M327 1048.3h195M327 1015.3h195"/>
<g transform="matrix(16.3 0 0 -165 115.8 2318.8)">
<polyline class="l" stroke="#0f3a5f" points="14,7.122 15,7.219 16,7.296 17,7.375 18,7.45 22,7.708 24,7.821"/>
<polyline class="l" stroke="#45bfea" points="16,7.138 17,7.217 18,7.305 20,7.45 22,7.583 24,7.696"/>
<polyline class="l" stroke="#12994e" points="16,6.979 18,7.169 20,7.31"/>
<polyline class="l" stroke="#9de872" points="18,7.041 20,7.199"/>
<polyline class="l" stroke="#e31a1c" points="20,7.072 22,7.215 24,7.371"/>
<polyline class="l" stroke="#fdbf6f" points="20,6.944 22,7.088 24,7.245"/>
<polyline class="l" stroke="#6a2c91" points="22,7.007 24,7.165"/>
<g class="pt" stroke="#0f3a5f"><use href="#e22" x="14" y="7.122"/><use href="#e22" x="15" y="7.219"/><use href="#e22" x="16" y="7.296"/><use href="#e22" x="17" y="7.375"/><use href="#e22" x="18" y="7.45"/><use href="#e22" x="22" y="7.708"/><use href="#e22" x="24" y="7.821"/></g>
<g class="pt" stroke="#45bfea"><use href="#e22" x="16" y="7.138"/><use href="#e22" x="17" y="7.217"/><use href="#e22" x="18" y="7.312"/><use href="#e22" x="18" y="7.294"/><use href="#e22" x="20" y="7.45"/><use href="#e22" x="22" y="7.583"/><use href="#e22" x="24" y="7.696"/></g>
<g class="pt" stroke="#12994e"><use href="#e22" x="16" y="6.979"/><use href="#e22" x="18" y="7.169"/><use href="#e22" x="20" y="7.31"/></g>
<g class="pt" stroke="#9de872"><use href="#e22" x="18" y="7.041"/><use href="#e22" x="20" y="7.199"/></g>
<g class="pt" stroke="#e31a1c"><use href="#e22" x="20" y="7.072"/><use href="#e22" x="22" y="7.215"/><use href="#e22" x="24" y="7.371"/></g>
<g class="pt" stroke="#fdbf6f"><use href="#e22" x="20" y="6.944"/><use href="#e22" x="22" y="7.088"/><use href="#e22" x="24" y="7.245"/></g>
<g class="pt" stroke="#6a2c91"><use href="#e22" x="22" y="7.007"/><use href="#e22" x="24" y="7.165"/></g>
</g>
<rect class="bd" x="327" y="1014.1" width="195" height="173"/>
<rect class="sb" x="327" y="981.8" width="195" height="32.3"/>
<text class="st" x="424.5" y="1003.8">SE 27:1</text>
<path class="tc" d="M344 1187.1v4M376.6 1187.1v4M409.2 1187.1v4M441.8 1187.1v4M474.4 1187.1v4M507 1187.1v4M327 1180.3h-4M327 1147.3h-4M327 1114.3h-4M327 1081.3h-4M327 1048.3h-4M327 1015.3h-4"/>
<g class="tk m"><text x="344" y="1209.1">14</text><text x="376.6" y="1209.1">16</text><text x="409.2" y="1209.1">18</text><text x="441.8" y="1209.1">20</text><text x="474.4" y="1209.1">22</text><text x="507" y="1209.1">24</text></g>
<g class="tk e"><text x="320" y="1185.8">6.9</text><text x="320" y="1152.8">7.1</text><text x="320" y="1119.8">7.3</text><text x="320" y="1086.8">7.5</text><text x="320" y="1053.8">7.7</text><text x="320" y="1020.8">7.9</text></g>

<!-- P23 SM;O2 -->
<rect x="577" y="1014.1" width="195" height="173" fill="#fff"/>
<path class="gr" d="M592.7 1014.1v173M616.1 1014.1v173M639.5 1014.1v173M663 1014.1v173M686.4 1014.1v173M709.8 1014.1v173M733.2 1014.1v173M756.7 1014.1v173M577 1143h195M577 1084h195M577 1025h195"/>
<g transform="matrix(11.71 0 0 -59 241.4 1379)">
<polyline class="l" stroke="#0f3a5f" points="32,4.073 34,4.452"/>
<polyline class="l" stroke="#45bfea" points="30,3.503 31,3.706 32,3.91 33,4.1 34,4.3 35,4.503 36,4.689 38,5.056 41,5.531 42,5.672 43,5.808 44,5.938"/>
<polyline class="l" stroke="#12994e" points="32,3.78 34,3.91 36,4.06 38,4.345 40,4.71 42,5.19 44,5.655"/>
<polyline class="l" stroke="#9de872" points="34,3.91 36,3.9 38,4.08 40,4.52 42,4.99"/>
<g class="pt" stroke="#0f3a5f"><use href="#e23" x="32" y="4.073"/><use href="#e23" x="34" y="4.452"/></g>
<g class="pt" stroke="#45bfea"><use href="#e23" x="30" y="3.503"/><use href="#e23" x="31" y="3.706"/><use href="#e23" x="32" y="3.91"/><use href="#e23" x="33" y="4.1"/><use href="#e23" x="34" y="4.3"/><use href="#e23" x="35" y="4.503"/><use href="#e23" x="36" y="4.689"/><use href="#e23" x="38" y="5.056"/><use href="#e23" x="41" y="5.531"/><use href="#e23" x="41" y="5.283"/><use href="#e23" x="42" y="5.672"/><use href="#e23" x="43" y="5.808"/><use href="#e23" x="44" y="5.938"/></g>
<g class="pt" stroke="#12994e"><use href="#e23" x="32" y="3.588"/><use href="#e23" x="34" y="3.989"/><use href="#e23" x="35" y="4.209"/><use href="#e23" x="38" y="4.215"/><use href="#e23" x="40" y="4.588"/><use href="#e23" x="42" y="5.379"/><use href="#e23" x="44" y="5.655"/></g>
<g class="pt" stroke="#9de872"><use href="#e23" x="34" y="3.723"/><use href="#e23" x="36" y="4.09"/><use href="#e23" x="40" y="4.435"/><use href="#e23" x="40" y="4.266"/><use href="#e23" x="42" y="5.119"/></g>
</g>
<g stroke-width="1.5"><use href="#star" x="698.1" y="1070" stroke="#45bfea"/><use href="#star" x="709.8" y="1093" stroke="#45bfea"/><use href="#star" x="663" y="1120.3" stroke="#12994e" stroke-width="2.2"/><use href="#star" x="686.4" y="1110" stroke="#9de872"/></g>
<rect class="bd" x="577" y="1014.1" width="195" height="173"/>
<rect class="sb" x="577" y="981.8" width="195" height="32.3"/>
<text class="st" x="674.5" y="1003.8">SM;O2</text>
<path class="tc" d="M592.7 1187.1v4M616.1 1187.1v4M639.5 1187.1v4M663 1187.1v4M686.4 1187.1v4M709.8 1187.1v4M733.2 1187.1v4M756.7 1187.1v4M577 1143h-4M577 1084h-4M577 1025h-4"/>
<g class="tk m"><text x="592.7" y="1209.1">30</text><text x="616.1" y="1209.1">32</text><text x="639.5" y="1209.1">34</text><text x="663" y="1209.1">36</text><text x="686.4" y="1209.1">38</text><text x="709.8" y="1209.1">40</text><text x="733.2" y="1209.1">42</text><text x="756.7" y="1209.1">44</text></g>
<g class="tk e"><text x="570" y="1148.5">4</text><text x="570" y="1089.5">5</text><text x="570" y="1030.5">6</text></g>

<!-- P24 TG -->
<rect x="817" y="1014.1" width="195" height="173" fill="#fff"/>
<path class="gr" d="M832.3 1014.1v173M865.1 1014.1v173M897.8 1014.1v173M930.5 1014.1v173M963.3 1014.1v173M996 1014.1v173M817 1152.7h195M817 1115.6h195M817 1078.4h195M817 1041.3h195"/>
<g transform="matrix(16.37 0 0 -185.6 46.54 2414.78)">
<polyline class="l" stroke="#0f3a5f" points="48,7.104 50,7.242 51,7.303 54,7.47"/>
<polyline class="l" stroke="#45bfea" points="48,6.966 49,7.053 50,7.116 51,7.192 52,7.248 54,7.36"/>
<polyline class="l" stroke="#12994e" points="48,6.842 50,6.997 51,7.068 52,7.129 53,7.19 54,7.251"/>
<polyline class="l" stroke="#9de872" points="48,6.7 50,6.865 52,7.01 54,7.143"/>
<polyline class="l" stroke="#e31a1c" points="50,6.737 52,6.888 54,7.037"/>
<polyline class="l" stroke="#6a2c91" points="54,6.81 56,6.98"/>
<polyline class="l" stroke="#ff7f00" points="56,6.77 58,6.935"/>
<g class="pt" stroke="#0f3a5f"><use href="#e24" x="48" y="7.104"/><use href="#e24" x="50" y="7.242"/><use href="#e24" x="51" y="7.303"/><use href="#e24" x="54" y="7.47"/></g>
<g class="pt" stroke="#45bfea"><use href="#e24" x="48" y="6.976"/><use href="#e24" x="48" y="6.956"/><use href="#e24" x="49" y="7.053"/><use href="#e24" x="50" y="7.116"/><use href="#e24" x="51" y="7.192"/><use href="#e24" x="52" y="7.258"/><use href="#e24" x="52" y="7.24"/><use href="#e24" x="54" y="7.36"/></g>
<g class="pt" stroke="#12994e"><use href="#e24" x="48" y="6.852"/><use href="#e24" x="48" y="6.832"/><use href="#e24" x="50" y="7.007"/><use href="#e24" x="50" y="6.99"/><use href="#e24" x="51" y="7.068"/><use href="#e24" x="52" y="7.129"/><use href="#e24" x="53" y="7.19"/><use href="#e24" x="54" y="7.251"/></g>
<g class="pt" stroke="#9de872"><use href="#e24" x="48" y="6.712"/><use href="#e24" x="48" y="6.692"/><use href="#e24" x="50" y="6.865"/><use href="#e24" x="52" y="7.019"/><use href="#e24" x="52" y="7.0"/><use href="#e24" x="54" y="7.143"/></g>
<g class="pt" stroke="#e31a1c"><use href="#e24" x="50" y="6.737"/><use href="#e24" x="52" y="6.888"/><use href="#e24" x="54" y="7.046"/><use href="#e24" x="54" y="7.028"/></g>
<g class="pt" stroke="#fdbf6f"><use href="#e24" x="54" y="6.92"/></g>
<g class="pt" stroke="#6a2c91"><use href="#e24" x="54" y="6.838"/><use href="#e24" x="54" y="6.777"/><use href="#e24" x="56" y="6.998"/><use href="#e24" x="56" y="6.967"/></g>
<g class="pt" stroke="#ff7f00"><use href="#e24" x="56" y="6.789"/><use href="#e24" x="56" y="6.743"/><use href="#e24" x="58" y="6.935"/></g>
</g>
<rect class="bd" x="817" y="1014.1" width="195" height="173"/>
<rect class="sb" x="817" y="981.8" width="195" height="32.3"/>
<text class="st" x="914.5" y="1003.8">TG</text>
<path class="tc" d="M832.3 1187.1v4M865.1 1187.1v4M897.8 1187.1v4M930.5 1187.1v4M963.3 1187.1v4M996 1187.1v4M817 1152.7h-4M817 1115.6h-4M817 1078.4h-4M817 1041.3h-4"/>
<g class="tk m"><text x="832.3" y="1209.1">48</text><text x="865.1" y="1209.1">50</text><text x="897.8" y="1209.1">52</text><text x="930.5" y="1209.1">54</text><text x="963.3" y="1209.1">56</text><text x="996" y="1209.1">58</text></g>
<g class="tk e"><text x="810" y="1158.2">6.8</text><text x="810" y="1121.1">7.0</text><text x="810" y="1083.9">7.2</text><text x="810" y="1046.8">7.4</text></g>

<!-- P25 TG-O -->
<rect x="1066" y="1014.1" width="195" height="173" fill="#fff"/>
<path class="gr" d="M1082.3 1014.1v173M1246 1014.1v173M1066 1138.3h195M1066 1078.5h195M1066 1018.7h195"/>
<g transform="matrix(81.83 0 0 -1196 -3009.2 9928.9)">
<polyline class="l" stroke="#12994e" points="51,7.334 52,7.334"/>
<g class="pt" stroke="#45bfea"><use href="#e25" x="50" y="7.321"/></g>
<g class="pt" stroke="#12994e"><use href="#e25" x="52" y="7.334"/></g>
</g>
<use href="#star" x="1164.2" y="1028.3" stroke="#12994e" stroke-width="1.7"/>
<rect class="bd" x="1066" y="1014.1" width="195" height="173"/>
<rect class="sb" x="1066" y="981.8" width="195" height="32.3"/>
<text class="st" x="1163.5" y="1003.8">TG-O</text>
<path class="tc" d="M1082.3 1187.1v4M1246 1187.1v4M1066 1138.3h-4M1066 1078.5h-4M1066 1018.7h-4"/>
<g class="tk m"><text x="1082.3" y="1209.1">50</text><text x="1246" y="1209.1">52</text></g>
<g class="tk e"><text x="1059" y="1143.8">7.35</text><text x="1059" y="1084">7.40</text><text x="1059" y="1024.2">7.45</text></g>

<!-- axis titles -->
<text class="tt" x="670" y="1232" text-anchor="middle">Total Carbon Number (C) of the chains</text>
<text class="tt" transform="translate(27 613.5) rotate(-90)" text-anchor="middle">Median Retention Time</text>

<!-- legend -->
<text class="tt" x="1293" y="328">total_db</text>
<g stroke-width="4" stroke-opacity=".5">
<line x1="1299" x2="1336" y1="364" y2="364" stroke="#0f3a5f"/>
<line x1="1299" x2="1336" y1="410" y2="410" stroke="#45bfea"/>
<line x1="1299" x2="1336" y1="456" y2="456" stroke="#12994e"/>
<line x1="1299" x2="1336" y1="502" y2="502" stroke="#9de872"/>
<line x1="1299" x2="1336" y1="548" y2="548" stroke="#e31a1c"/>
<line x1="1299" x2="1336" y1="594" y2="594" stroke="#fdbf6f"/>
<line x1="1299" x2="1336" y1="640" y2="640" stroke="#6a2c91"/>
<line x1="1299" x2="1336" y1="686" y2="686" stroke="#c5b3dc"/>
<line x1="1299" x2="1336" y1="732" y2="732" stroke="#ff7f00"/>
</g>
<circle cx="1317.5" cy="364" r="4.5" fill="#0f3a5f"/>
<circle cx="1317.5" cy="410" r="4.5" fill="#45bfea"/>
<circle cx="1317.5" cy="456" r="4.5" fill="#12994e"/>
<circle cx="1317.5" cy="502" r="4.5" fill="#9de872"/>
<circle cx="1317.5" cy="548" r="4.5" fill="#e31a1c"/>
<circle cx="1317.5" cy="594" r="4.5" fill="#fdbf6f"/>
<circle cx="1317.5" cy="640" r="4.5" fill="#6a2c91"/>
<circle cx="1317.5" cy="686" r="4.5" fill="#c5b3dc"/>
<circle cx="1317.5" cy="732" r="4.5" fill="#ff7f00"/>
<g class="lg">
<text x="1351" y="369.5">0</text><text x="1351" y="415.5">1</text><text x="1351" y="461.5">2</text><text x="1351" y="507.5">3</text><text x="1351" y="553.5">4</text><text x="1351" y="599.5">5</text><text x="1351" y="645.5">6</text><text x="1351" y="691.5">7</text><text x="1351" y="737.5">8</text>
</g>
<text class="tt" x="1293" y="816">Outlier</text>
<circle cx="1317" cy="851" r="3.6" fill="none" stroke="#000" stroke-width="1.7"/>
<use href="#star" x="1317" y="897" stroke="#000" stroke-width="1.5"/>
<text class="lg" x="1351" y="856.5">No</text>
<text class="lg" x="1351" y="902.5">Yes</text>
</svg>
</body></html>
